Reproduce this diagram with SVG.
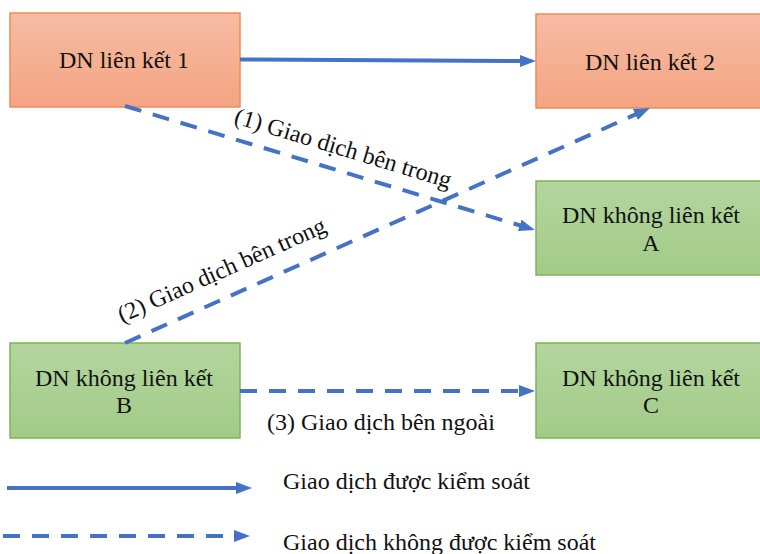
<svg xmlns="http://www.w3.org/2000/svg" width="760" height="554" viewBox="0 0 760 554">
<defs>
<linearGradient id="gOrange" x1="0" y1="0" x2="0" y2="1"><stop offset="0" stop-color="#f6bca3"/><stop offset="1" stop-color="#f4a482"/></linearGradient>
<linearGradient id="gGreen" x1="0" y1="0" x2="0" y2="1"><stop offset="0" stop-color="#b3d59e"/><stop offset="1" stop-color="#a2cb87"/></linearGradient>
<marker id="arr" markerUnits="userSpaceOnUse" markerWidth="16" markerHeight="12" refX="4" refY="6" orient="auto"><path d="M0,0 L16,6 L0,12 z" fill="#4472c4"/></marker>
</defs>
<style>
.orange{fill:url(#gOrange);stroke:#f08a55;stroke-width:1.5}
.green{fill:url(#gGreen);stroke:#7fb35a;stroke-width:1.5}
text{font-family:'Liberation Serif','DejaVu Serif',serif;font-size:24px;fill:#111}
.c{text-anchor:middle}
.ln{stroke:#4472c4;stroke-width:4;fill:none;marker-end:url(#arr)}
.d{stroke-dasharray:17 12}
</style>
<rect width="760" height="554" fill="#fff"/>
<g id="n1"><rect class="orange" x="10" y="13" width="230" height="94"/><text class="c" x="124" y="68">DN liên kết 1</text></g>
<g id="n2"><rect class="orange" x="536" y="14" width="226" height="94"/><text class="c" x="650" y="70">DN liên kết 2</text></g>
<g id="nA"><rect class="green" x="536" y="181" width="226" height="94"/><text class="c" x="651" y="223">DN không liên kết</text><text class="c" x="651" y="251">A</text></g>
<g id="nB"><rect class="green" x="10" y="343" width="230" height="95"/><text class="c" x="124" y="386">DN không liên kết</text><text class="c" x="124" y="413">B</text></g>
<g id="nC"><rect class="green" x="536" y="343" width="226" height="95"/><text class="c" x="651" y="386">DN không liên kết</text><text class="c" x="651" y="413">C</text></g>
<g id="connectors">
<line class="ln" x1="240" y1="59.5" x2="524" y2="61"/>
<line class="ln d" x1="125" y1="106" x2="523.5" y2="226.5"/>
<line class="ln d" x1="125" y1="343" x2="639" y2="112.9"/>
<line class="ln d" x1="240" y1="391" x2="523" y2="391"/>
<text transform="translate(233,123) rotate(16.8)">(1) Giao dịch bên trong</text>
<text transform="translate(122,323) rotate(-24)">(2) Giao dịch bên trong</text>
<text x="267" y="430">(3) Giao dịch bên ngoài</text>
</g>
<g id="legend">
<line class="ln" x1="7" y1="488" x2="240" y2="488"/>
<line class="ln d" x1="3" y1="536" x2="238" y2="536"/>
<text x="283" y="489">Giao dịch được kiểm soát</text>
<text x="283" y="550">Giao dịch không được kiểm soát</text>
</g>
</svg>
